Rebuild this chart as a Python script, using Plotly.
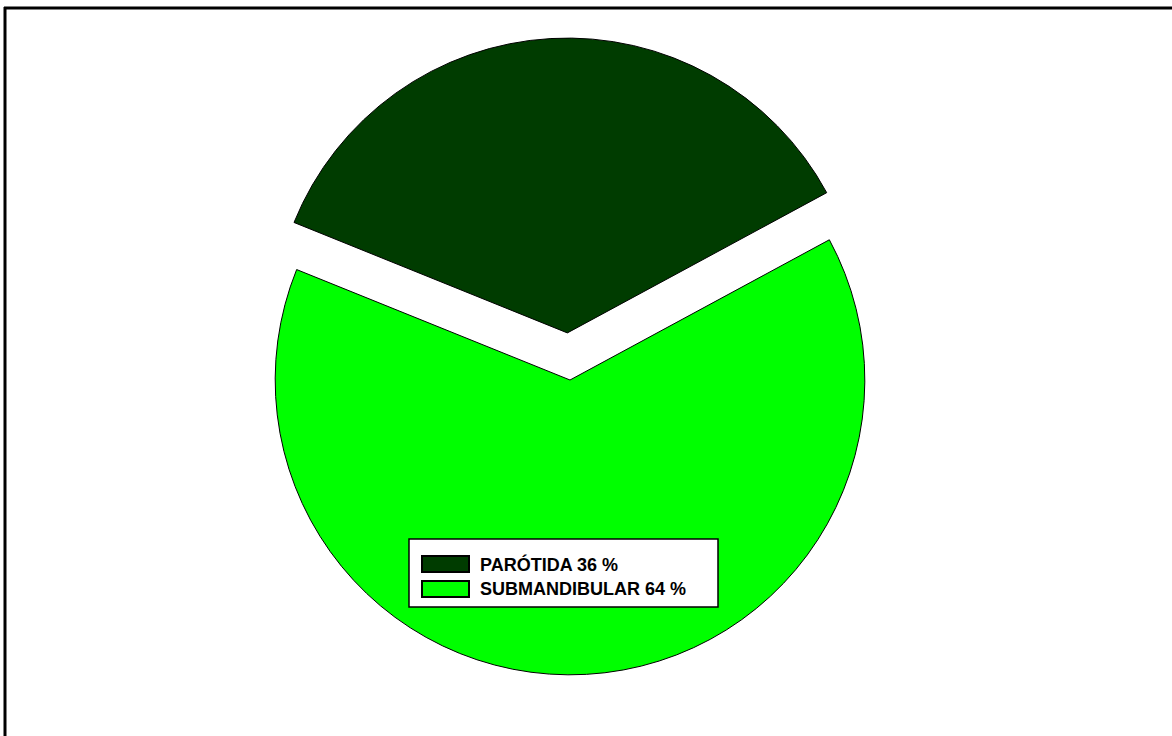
import plotly.graph_objects as go

W, H = 1172, 736

# Data
labels = ["PARÓTIDA", "SUBMANDIBULAR"]
percent = [36, 64]
colors = ["#003C00", "#00FF00"]
pull = [0.16, 0.0]


def px(x):
    return x / W


def py(y):
    return 1 - y / H


fig = go.Figure(
    go.Pie(
        labels=labels,
        values=percent,
        marker=dict(colors=colors, line=dict(color="#000000", width=1)),
        pull=pull,
        sort=False,
        direction="clockwise",
        rotation=-68,
        textinfo="none",
        hoverinfo="label+percent",
        showlegend=False,
        domain=dict(x=[px(228), px(912)], y=[py(722), py(38)]),
    )
)

shapes = [
    # outer frame (top and left edges)
    dict(type="line", xref="paper", yref="paper", x0=px(4), x1=1, y0=py(8), y1=py(8),
         line=dict(color="#000000", width=3)),
    dict(type="line", xref="paper", yref="paper", x0=px(5), x1=px(5), y0=py(7), y1=0,
         line=dict(color="#000000", width=3)),
    # legend box
    dict(type="rect", xref="paper", yref="paper", x0=px(409), x1=px(718), y0=py(607), y1=py(539),
         fillcolor="#FFFFFF", line=dict(color="#000000", width=1.5)),
]

annotations = []
row_top = [556, 581]
for i, (lab, pct, col) in enumerate(zip(labels, percent, colors)):
    y0 = row_top[i]
    shapes.append(
        dict(type="rect", xref="paper", yref="paper", x0=px(422), x1=px(469),
             y0=py(y0 + 16), y1=py(y0), fillcolor=col, line=dict(color="#000000", width=2))
    )
    annotations.append(
        dict(xref="paper", yref="paper", x=px(478), y=py(y0 + 8), xanchor="left", yanchor="middle",
             text=f"<b>{lab} {pct} %</b>", showarrow=False,
             font=dict(family="Arial, Liberation Sans, sans-serif", size=18, color="#000000"))
    )

fig.update_layout(
    width=W,
    height=H,
    margin=dict(l=0, r=0, t=0, b=0),
    paper_bgcolor="#FFFFFF",
    plot_bgcolor="#FFFFFF",
    shapes=shapes,
    annotations=annotations,
)

fig.write_html("out.html")
